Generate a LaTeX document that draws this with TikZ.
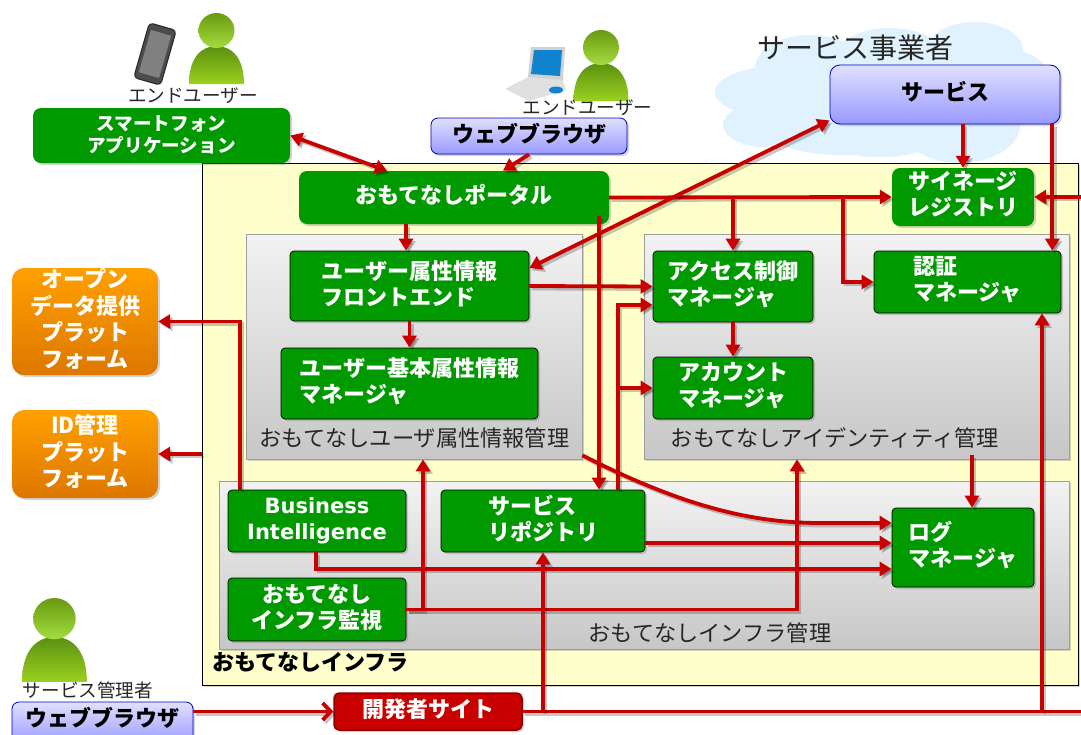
\documentclass[tikz,border=0pt]{standalone}
\usepackage{fontspec}
\setmainfont{Noto Sans CJK JP}
\newfontfamily\latinbold{DejaVu Sans}
\usetikzlibrary{arrows.meta,shadows}

\definecolor{boxgreen}{HTML}{009900}
\definecolor{flowred}{HTML}{C80000}
\definecolor{cloudblue}{HTML}{E0F2FE}
\definecolor{infrayellow}{HTML}{FFFFCC}
\definecolor{orangetop}{HTML}{FFA000}
\definecolor{orangelow}{HTML}{DD7700}
\definecolor{headtop}{HTML}{6A9A10}
\definecolor{headlow}{HTML}{A4DC40}
\definecolor{bodytop}{HTML}{5A9010}
\definecolor{bodylow}{HTML}{9CD020}

\tikzset{
	softshadow/.style={drop shadow={opacity=.35,shadow xshift=2pt,shadow yshift=-2pt}},
	greenbox/.style={fill=boxgreen,rounded corners=8pt,text=white,inner sep=0pt,align=center,softshadow,text depth=6.5pt,font=\fontsize{22}{26}\selectfont\bfseries},
	innerbox/.style={greenbox,draw=black,rounded corners=4pt,line width=.7pt},
	bluebox/.style={top color=blue!12,bottom color=blue!40,draw=blue!75!black,line width=.8pt,rounded corners=7pt,text=black,inner sep=0pt,softshadow,text depth=7pt,font=\fontsize{22}{26}\selectfont\bfseries},
	orangebox/.style={top color=orangetop,bottom color=orangelow,rounded corners=12pt,text=white,inner sep=0pt,align=center,softshadow,text depth=7pt,font=\fontsize{22}{26.5}\selectfont\bfseries},
	panelbox/.style={top color=black!5,bottom color=black!22,draw=black!38,line width=.7pt,inner sep=0pt,softshadow},
	paneltext/.style={inner sep=0pt,text=black!85,font=\fontsize{22.2}{26}\selectfont},
	usertext/.style={inner sep=0pt,text=black!85,font=\fontsize{18.6}{22}\selectfont},
	flow/.style={draw=flowred,line width=3.8pt,-{Triangle[length=12pt,width=14pt]}},
	flowshade/.style={flow,draw=black,opacity=.22,transform canvas={shift={(2.5pt,-2.5pt)}}},
	bothtips/.style={{Triangle[length=12pt,width=14pt]}-{Triangle[length=12pt,width=14pt]}},
	person/.pic={
		\shade[top color=bodytop,bottom color=bodylow] (0,71) .. controls (0,45) and (12,33) .. (27.5,33) .. controls (43,33) and (55,45) .. (55,71) -- cycle;
		\shade[top color=headtop,bottom color=headlow] (27.5,17.5) circle[x radius=18,y radius=17.5];
	}
}
\newcommand{\flowline}[2][]{\draw[flowshade,#1] #2; \draw[flow,#1] #2;}

\begin{document}
\begin{tikzpicture}[x=1pt,y=-1pt]
	\useasboundingbox (0,0) rectangle (1081,734);

	\foreach \cx/\cy/\rx/\ry in {840/115/90/40,780/92/65/26,765/125/42/22,810/68/55/33,890/58/55/30,975/50/48/28,1005/85/48/36,960/125/60/38,880/135/60/22}
		\fill[cloudblue] (\cx,\cy) circle[x radius=\rx,y radius=\ry];

	\node[panelbox,draw=black,top color=infrayellow,bottom color=infrayellow,minimum width=876pt,minimum height=522pt,drop shadow={opacity=0}] (infra) at (640,424) {};
	\node[panelbox,minimum width=336pt,minimum height=225pt] (userpanel) at (414,346.5) {};
	\node[panelbox,minimum width=425pt,minimum height=225pt] (identpanel) at (856.5,346.5) {};
	\node[panelbox,minimum width=850pt,minimum height=168pt] (infrapanel) at (644,565) {};

	\node[paneltext] (usertitle) at (414.5,438) {おもてなしユーザ属性情報管理};
	\node[paneltext] (identtitle) at (835,438) {おもてなしアイデンティティ管理};
	\node[paneltext] (infratitle) at (710,633) {おもてなしインフラ管理};
	\node[paneltext,text=black,font=\fontsize{22}{26}\selectfont\bfseries] (roottitle) at (310.5,662) {おもてなしインフラ};
	\node[paneltext,font=\fontsize{28}{32}\selectfont] (providertitle) at (855,48) {サービス事業者};

	\node[greenbox,minimum width=257pt,minimum height=55pt,text depth=3.5pt,font=\fontsize{18.6}{22}\selectfont\bfseries] (smartapp) at (161.5,135.5) {スマートフォン\\アプリケーション};
	\node[greenbox,minimum width=310pt,minimum height=53pt] (portal) at (454,197.5) {おもてなしポータル};
	\node[greenbox,minimum width=142pt,minimum height=58pt] (signage) at (963,197) {サイネージ\\レジストリ};
	\node[innerbox,minimum width=239pt,minimum height=70pt,align=left] (userfront) at (409.5,286) {ユーザー属性情報\\フロントエンド};
	\node[innerbox,minimum width=257pt,minimum height=71pt,align=left] (basicuser) at (409.5,383.5) {ユーザー基本属性情報\\マネージャ};
	\node[innerbox,minimum width=160pt,minimum height=71pt,align=left] (access) at (733,286.5) {アクセス制御\\マネージャ};
	\node[innerbox,minimum width=160pt,minimum height=62pt,align=left] (account) at (733,388) {アカウント\\マネージャ};
	\node[innerbox,minimum width=187pt,minimum height=62pt,align=left] (auth) at (967.5,282) {認証\\マネージャ};
	\node[innerbox,minimum width=178pt,minimum height=62pt,text depth=5pt,font=\fontsize{21}{26}\latinbold\bfseries] (business) at (317,521) {Business\\Intelligence};
	\node[innerbox,minimum width=204pt,minimum height=62pt,align=left] (repo) at (543,521) {サービス\\リポジトリ};
	\node[innerbox,minimum width=178pt,minimum height=63pt] (monitor) at (317,609.5) {おもてなし\\インフラ監視};
	\node[innerbox,minimum width=142pt,minimum height=79pt,align=left] (log) at (963,547.5) {ログ\\マネージャ};

	\node[orangebox,minimum width=146pt,minimum height=107pt] (opendata) at (85,321.5) {オープン\\データ提供\\プラット\\フォーム};
	\node[orangebox,minimum width=146pt,minimum height=88pt] (idplat) at (85,454) {ID管理\\プラット\\フォーム};

	\node[bluebox,minimum width=230pt,minimum height=59pt,rounded corners=10pt] (service) at (945,94.5) {サービス};
	\node[bluebox,minimum width=196pt,minimum height=36pt] (browserb) at (529,136) {ウェブブラウザ};
	\node[bluebox,minimum width=181pt,minimum height=43pt] (browsera) at (102.5,723.5) {};
	\node[paneltext,text=black,font=\fontsize{22}{26}\selectfont\bfseries] (browseratext) at (102,718) {ウェブブラウザ};
	\node[fill=flowred,draw=red!55!black,line width=1.5pt,rounded corners=5pt,text=white,minimum width=188pt,minimum height=37pt,inner sep=0pt,softshadow,text depth=7pt,font=\fontsize{22}{26}\selectfont\bfseries] (devsite) at (428,711.5) {開発者サイト};

	\pic at (189,13) {person};
	\pic at (573.5,30) {person};
	\pic[scale=1.18] at (22,598) {person};
	\node[usertext] (usera) at (193,96) {エンドユーザー};
	\node[usertext] (userb) at (587.5,108) {エンドユーザー};
	\node[usertext] (admin) at (88,690) {サービス管理者};

	\node[fill=black!70,draw=black!85,line width=1pt,rounded corners=4pt,rotate=-16,minimum width=28pt,minimum height=57pt,inner sep=0pt] (phone) at (155,54) {};
	\node[fill=black!50,rotate=-16,minimum width=21pt,minimum height=44pt,inner sep=0pt] (phonescreen) at (phone.center) {};

	\fill[black!12] (530,76) -- (505,89) -- (529,101) -- (566,90) -- (562,78) -- cycle;
	\fill[black!18] (531,47) -- (565,47) -- (563,80) -- (528,77) -- cycle;
	\fill[cyan!65!blue] (534,50) -- (562,50) -- (560,76) -- (531,74) -- cycle;
	\fill[cyan!65!blue] (556,90) circle[x radius=7,y radius=3.5];

	\coordinate (signagein) at (1081,197);
	\coordinate (siteout) at (1081,711.5);
	\coordinate (authjoin) at (843,197.5);

	\flowline[bothtips]{(smartapp.east) -- ([xshift=-67pt]portal.north)}
	\flowline{(browserb.south) -- ([xshift=49pt]portal.north)}
	\flowline{([xshift=-3.5pt]userfront.north |- portal.south) -- ([xshift=-3.5pt]userfront.north)}
	\flowline{(portal.east) -- (signage.west)}
	\flowline{(access.north |- portal.east) -- (access.north)}
	\flowline{(authjoin) |- (auth.west)}
	\flowline{(signagein) -- (signage.east)}
	\flowline{(signage.north |- service.south) -- (signage.north)}
	\flowline{([xshift=-9pt]auth.north east |- service.south) -- ([xshift=-9pt]auth.north east)}
	\flowline{(userfront.east) -- (access.west)}
	\flowline{(userfront.south) -- (basicuser.north)}
	\flowline{(access.south) -- (account.north)}
	\flowline{([xshift=145pt,yshift=8pt]portal.south) -- ([xshift=56pt]repo.north)}
	\flowline{([xshift=75pt]repo.north) |- ([yshift=-18.5pt]access.west)}
	\flowline{([xshift=75pt]repo.north |- account.west) -- (account.west)}
	\flowline{([yshift=4pt]userpanel.south east) .. controls (680,505) and (750,523) .. (820,523) -- ([yshift=24.5pt]log.west)}
	\flowline{([xshift=9pt,yshift=4pt]log.north |- identpanel.south) -- ([xshift=9pt]log.north)}
	\flowline{([yshift=-22pt]repo.east) -- ([yshift=4.5pt]log.west)}
	\flowline{([xshift=-1pt]business.south) |- ([yshift=-21.5pt]log.west)}
	\flowline{([xshift=-77pt]business.north) |- (opendata.east)}
	\flowline{(infra.west |- idplat.east) -- (idplat.east)}
	\flowline{(monitor.east) -| ([xshift=9pt]userpanel.south)}
	\flowline{(monitor.east) -| ([xshift=-59.5pt]identpanel.south)}
	\flowline[-{Straight Barb[length=8pt,width=17pt]}]{(devsite.west -| browsera.east) -- (devsite.west)}
	\flowline[-]{(devsite.east) -- (siteout)}
	\flowline{(repo.south |- devsite.east) -- (repo.south)}
	\flowline{([xshift=74.5pt]auth.south |- devsite.east) -- ([xshift=74.5pt]auth.south)}
	\flowline[bothtips]{([yshift=18pt]userfront.east) -- ([yshift=4pt]service.south west)}
\end{tikzpicture}
\end{document}
